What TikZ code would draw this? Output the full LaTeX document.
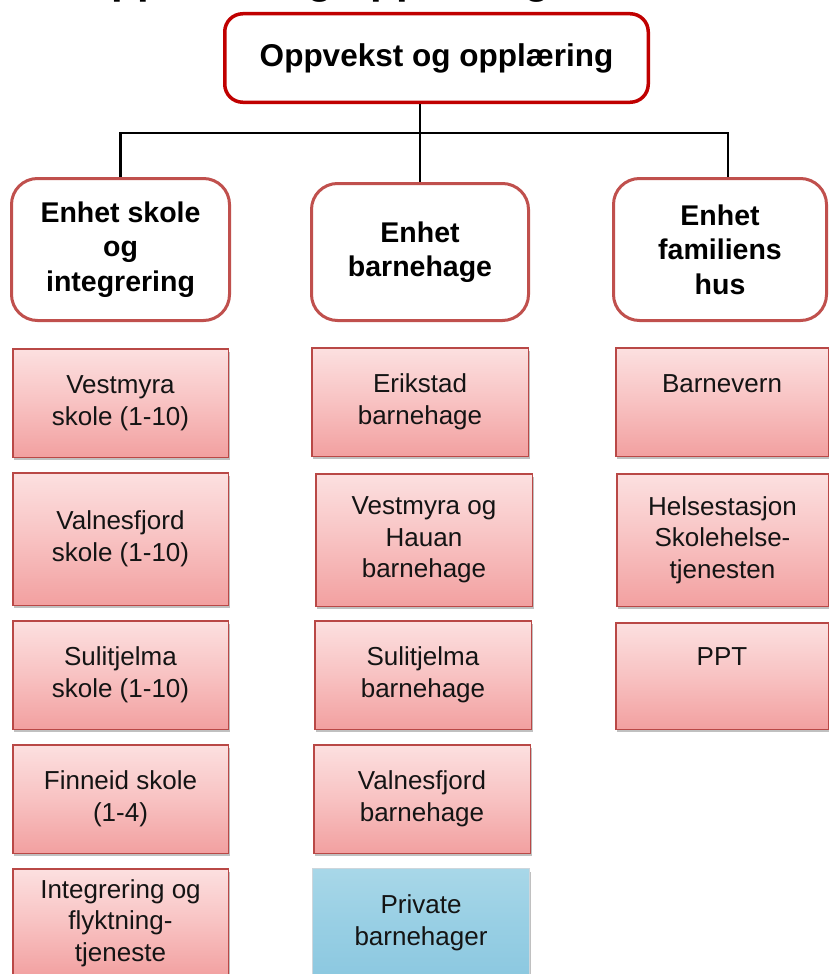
\documentclass[tikz,border=0pt]{standalone}
\usepackage{fontspec}
\setmainfont{Liberation Sans}
\usetikzlibrary{shadows}
\definecolor{topred}{RGB}{192,0,0}
\definecolor{accred}{RGB}{192,80,77}
\definecolor{subedge}{RGB}{185,72,70}
\definecolor{pinktop}{RGB}{252,224,224}
\definecolor{pinkmid}{RGB}{248,194,194}
\definecolor{pinkbot}{RGB}{242,160,160}
\definecolor{bluetop}{RGB}{168,215,232}
\definecolor{bluemid}{RGB}{152,207,228}
\definecolor{bluebot}{RGB}{140,200,224}
\definecolor{blueedge}{RGB}{205,214,220}
\definecolor{ink}{RGB}{20,20,20}
\begin{document}
\begin{tikzpicture}[x=1pt,y=-1pt,
  titletext/.style={anchor=base west, inner sep=0pt, text=black,
    font=\fontsize{42}{48}\selectfont\bfseries},
  topbox/.style={draw=topred, line width=3.5pt, rounded corners=18pt, fill=white,
    inner sep=0pt, text=black, font=\fontsize{31.5}{36}\selectfont\bfseries},
  unitbox/.style={draw=accred, line width=3pt, rounded corners=26pt, fill=white,
    inner sep=0pt, align=center, text=black,
    font=\fontsize{28.5}{34.5}\selectfont\bfseries},
  subbox/.style={draw=subedge, line width=1.5pt,
    top color=pinktop, bottom color=pinkbot, middle color=pinkmid,
    inner sep=0pt, align=center, text=ink,
    font=\fontsize{26}{31.5}\selectfont,
    drop shadow={shadow xshift=1.5pt, shadow yshift=-3pt, opacity=0.35, fill=black!70}},
  privbox/.style={subbox, draw=blueedge, line width=1pt,
    top color=bluetop, bottom color=bluebot, middle color=bluemid},
  conn/.style={draw=black, line width=2.2pt}
]
\useasboundingbox (0,0) rectangle (829,974);
\clip (0,0) rectangle (829,974);
\fill[white] (0,0) rectangle (829,974);

% cut-off heading
\node[titletext] (title) at (79,-6) {Oppvekst og opplæring};

% top box
\node[topbox, minimum width=423.5pt, minimum height=88.5pt] (top) at (436.5,58) {Oppvekst og opplæring};

% unit boxes
\node[unitbox, minimum width=218pt, minimum height=142pt] (u1) at (120.5,249.5) {Enhet skole\\og\\integrering};
\node[unitbox, minimum width=217pt, minimum height=137pt] (u2) at (420,252) {Enhet\\barnehage};
\node[unitbox, minimum width=213pt, minimum height=142pt] (u3) at (720,249.5) {Enhet\\familiens\\hus};

% connectors
\coordinate (bar) at (0,133);
\coordinate (rc) at ([xshift=8pt]u3.north);
\draw[conn] (u2.north |- top.south) -- (u2.north);
\draw[conn] (u1.north) -- (u1.north |- bar) -- (rc |- bar) -- (rc);

% left column
\node[subbox, minimum width=215.5pt, minimum height=108.5pt] (a1) at (120.5,403) {Vestmyra\\skole (1-10)};
\node[subbox, minimum width=215.5pt, minimum height=132.5pt] (a2) at (120.5,539) {Valnesfjord\\skole (1-10)};
\node[subbox, minimum width=215.5pt, minimum height=108.5pt] (a3) at (120.5,675) {Sulitjelma\\skole (1-10)};
\node[subbox, minimum width=215.5pt, minimum height=108.5pt] (a4) at (120.5,799) {Finneid skole\\(1-4)};
\node[subbox, minimum width=215.5pt, minimum height=108.5pt] (a5) at (120.5,923) {Integrering og\\flyktning-\\tjeneste};

% middle column
\node[subbox, minimum width=216.5pt, minimum height=108.5pt] (b1) at (420,402) {Erikstad\\barnehage};
\node[subbox, minimum width=216.5pt, minimum height=132.5pt] (b2) at (424,540) {Vestmyra og\\Hauan\\barnehage};
\node[subbox, minimum width=216.5pt, minimum height=108.5pt] (b3) at (423,675) {Sulitjelma\\barnehage};
\node[subbox, minimum width=216.5pt, minimum height=108.5pt] (b4) at (422,799) {Valnesfjord\\barnehage};
\node[privbox, minimum width=216.5pt, minimum height=108.5pt] (b5) at (421,923) {Private\\barnehager};

% right column
\node[subbox, minimum width=212.5pt, minimum height=108.5pt, text height=19pt, text depth=39pt] (c1) at (722,402) {Barnevern};
\node[subbox, minimum width=211.5pt, minimum height=132.5pt] (c2) at (722.5,540) {Helsestasjon\\Skolehelse-\\tjenesten};
\node[subbox, minimum width=212.5pt, minimum height=106.5pt, text height=19pt, text depth=41pt] (c3) at (722,676) {PPT};
\end{tikzpicture}
\end{document}
